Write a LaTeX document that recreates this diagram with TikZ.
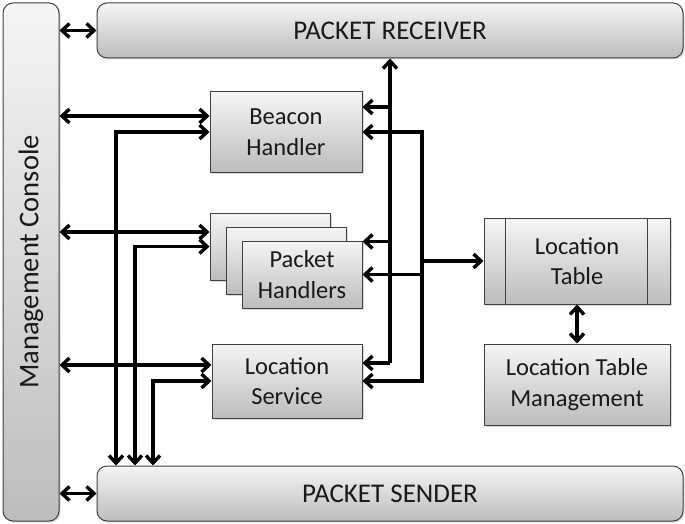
\documentclass[tikz,border=0pt]{standalone}
\usepackage{fontspec}
\setmainfont{Carlito}
\usetikzlibrary{arrows.meta,shadows}
\begin{document}
\begin{tikzpicture}[x=1pt,y=-1pt,
  box/.style={draw=black!75, line width=1pt, top color=black!4, bottom color=black!26,
    drop shadow={shadow xshift=1.5pt,shadow yshift=-1.5pt,opacity=0.3},
    inner sep=0pt, align=center, text=black!90, font=\fontsize{24.5}{30.5}\selectfont},
  rbox/.style={box, rounded corners=10pt, font=\fontsize{27}{30}\selectfont},
  tip/.tip={Straight Barb[length=7.5pt,width=14pt,line width=3.4pt]},
  conn/.style={line width=3.2pt, black},
  arr/.style={conn, -tip},
  darr/.style={conn, tip-tip}]
\useasboundingbox (0,0) rectangle (685,524);
% big boxes
\node[rbox, minimum width=56pt, minimum height=518pt, font=\fontsize{28.5}{30}\selectfont] (MC) at (31,262)
  {\rotatebox{90}{Management Console}};
\node[rbox, minimum width=586pt, minimum height=55pt] (PR) at (390,30.5) {PACKET RECEIVER};
\node[rbox, minimum width=586pt, minimum height=55pt] (PS) at (390,493.5) {PACKET SENDER};
% handlers
\node[box, minimum width=152pt, minimum height=80pt] (BH) at (286,132) {Beacon\\Handler};
\node[box, minimum width=120pt, minimum height=67pt] (PHb) at (270,246.5) {};
\node[box, minimum width=120pt, minimum height=67pt] (PHm) at (286,260.5) {};
\node[box, minimum width=120pt, minimum height=67pt] (PHf) at (302,274.5) {Packet\\Handlers};
\node[box, minimum width=150pt, minimum height=74pt] (LS) at (287,381) {Location\\Service};
\node[box, minimum width=186pt, minimum height=86pt] (LT) at (577,261) {Location\\Table};
\draw[black!75, line width=1pt] ([xshift=22pt]LT.north west) -- ([xshift=22pt]LT.south west);
\draw[black!75, line width=1pt] ([xshift=-23pt]LT.north east) -- ([xshift=-23pt]LT.south east);
\node[box, minimum width=186pt, minimum height=81pt] (LTM) at (577,384.5) {Location Table\\Management};
% coordinates
\coordinate (xa) at (116,0);
\coordinate (xb) at (135,0);
\coordinate (xc) at (153,0);
\coordinate (xr) at (390,0);
\coordinate (xs) at (422,0);
\coordinate (bh1) at ([yshift=16pt]BH.west);
\coordinate (ph1) at ([yshift=14.5pt]PHb.west);
\coordinate (ls1) at ([yshift=16pt]LS.west);
\coordinate (bhr) at ([yshift=25pt]BH.east);
\coordinate (phr) at ([yshift=-1pt]PHf.north east);
\coordinate (lsr) at ([yshift=18pt]LS.east);
% console links
\draw[darr] (PR.west -| MC.east) -- (PR.west);
\draw[darr] (PS.west -| MC.east) -- (PS.west);
\draw[darr] (MC.east |- bh1) -- (bh1);
\draw[darr] (MC.east |- ph1) -- (ph1);
\draw[darr] (MC.east |- ls1) -- (ls1);
% to sender
\draw[darr] (BH.west) -| (xa |- PS.north);
\draw[darr] (PHb.west) -| (xb |- PS.north);
\draw[darr] (LS.west) -| (xc |- PS.north);
% receiver bus
\draw[arr] (xr |- lsr) -- (xr |- PR.south);
\draw[arr] (xr |- bhr) -- (bhr);
\draw[arr] (xr |- phr) -- (phr);
\draw[arr] (xr |- lsr) -- (lsr);
% second bus
\draw[darr] (BH.east) -| (xs |- LS.east) -- (LS.east);
\draw[arr] (xs |- PHf.east) -- (PHf.east);
\draw[arr] (xs |- LT.west) -- (LT.west);
% table
\draw[darr] (LT.south) -- (LTM.north);
\end{tikzpicture}
\end{document}
